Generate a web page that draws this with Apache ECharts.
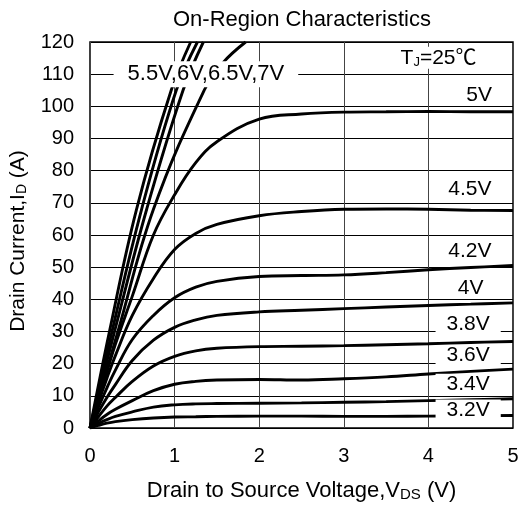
<!DOCTYPE html>
<html>
<head>
<meta charset="utf-8">
<script src="https://cdn.jsdelivr.net/npm/echarts@6/dist/echarts.min.js"></script>
<style>html,body{margin:0;padding:0;background:#fff;}#c{width:522px;height:507px;}</style>
</head>
<body>
<div id="c"></div>
<script>
// ---- data ----
const vds = [0, 0.1, 0.2, 0.3, 0.5, 0.75, 1, 1.25, 1.5, 2, 2.5, 3, 3.5, 4, 4.5, 5];
const id32 = [0, 0.8, 1.5, 2.0, 2.6, 3.1, 3.4, 3.5, 3.6, 3.7, 3.7, 3.6, 3.6, 3.7, 3.8, 3.9];
const id34 = [0, 1.4, 2.6, 3.6, 5.0, 6.5, 7.2, 7.5, 7.6, 7.7, 7.8, 8.0, 8.2, 8.5, 8.8, 9.1];
const id36 = [0, 2.2, 4.2, 5.8, 8.5, 11.6, 13.6, 14.5, 14.9, 15.1, 14.9, 15.3, 15.9, 16.8, 17.6, 18.3];
const id38 = [0, 3.5, 6.8, 9.5, 14.5, 19.3, 22.3, 24, 24.8, 25.3, 25.4, 25.6, 25.9, 26.2, 26.6, 26.9];
const id40 = [0, 5, 9.5, 13.5, 21, 27.3, 31.3, 33.6, 35, 36.1, 36.6, 37.1, 37.6, 38.1, 38.5, 38.9];
const id42 = [0, 6.5, 12.5, 18, 27.5, 35, 40.5, 43.8, 45.6, 47.1, 47.4, 47.6, 48.3, 49.2, 49.9, 50.5];
const id45 = [0, 8, 15.5, 22.5, 35, 46.5, 55.5, 60.5, 63.3, 66, 67.3, 68, 68.1, 68, 67.7, 67.6];
const id50 = [0, 9, 17.5, 26, 41, 60, 72.5, 82.5, 89, 96, 97.6, 98.2, 98.3, 98.4, 98.3, 98.3];

const idSteep = [0, 30, 68, 105, 120];
const vds70 = [0, 0.23, 0.55, 0.96, 1.19];
const vds65 = [0, 0.26, 0.61, 1.02, 1.27];
const vds60 = [0, 0.29, 0.67, 1.10, 1.34];
const vds55 = [0, 0.33, 0.75, 1.35, 1.57, 1.84];
const id55 = [0, 30, 68, 105, 113.5, 120];

const xTicks = [0, 1, 2, 3, 4, 5];
const yTicks = [0, 10, 20, 30, 40, 50, 60, 70, 80, 90, 100, 110, 120];

const labelTexts = ['5.5V,6V,6.5V,7V', '{n|T}{sub|J}{n|=25℃}', '5V', '4.5V', '4.2V', '4V', '3.8V', '3.6V', '3.4V', '3.2V'];
const labelAnchors = [[1.37, 110], [4.12, 115.1], [4.6, 103.5], [4.49, 74.2], [4.49, 54.9], [4.5, 43.5], [4.47, 32.2], [4.47, 22.5], [4.47, 13.6], [4.47, 5.6]];

// ---- chart ----
const FONT = 'Arial, "Liberation Sans", "Noto Sans CJK SC", sans-serif';
const zip = (xs, ys) => xs.map((x, i) => [x, ys[i]]);
const curves = [
  zip(vds, id32), zip(vds, id34), zip(vds, id36), zip(vds, id38),
  zip(vds, id40), zip(vds, id42), zip(vds, id45), zip(vds, id50),
  zip(vds55, id55), zip(vds60, idSteep), zip(vds65, idSteep), zip(vds70, idSteep)
];
const lineSeries = curves.map(d => ({
  type: 'line', data: d, smooth: 0.4, showSymbol: false,
  lineStyle: { color: '#000', width: 2.9 }, clip: true, z: 3, silent: true
}));

const labelSeries = {
  type: 'scatter', symbolSize: 0, z: 10, silent: true,
  itemStyle: { opacity: 1, color: '#fff' },
  data: labelAnchors.map((a, i) => ({
    value: a,
    label: {
      show: true, position: 'inside', formatter: labelTexts[i],
      color: '#000', fontFamily: FONT, fontSize: i === 0 ? 22 : 21,
      textBorderWidth: 0, opacity: 1,
      backgroundColor: '#fff', padding: i === 0 ? [2, 14] : [0, 11],
      rich: {
        n: { fontSize: 21, fontFamily: FONT, color: '#000', textBorderWidth: 0 },
        sub: { fontSize: 13, fontFamily: FONT, color: '#000', textBorderWidth: 0, verticalAlign: 'bottom', padding: [9, 0, 0, 0] }
      }
    }
  }))
};

const chart = echarts.init(document.getElementById('c'), null, { renderer: 'canvas' });
chart.setOption({
  animation: false,
  backgroundColor: '#fff',
  title: {
    text: 'On-Region Characteristics', left: 173, top: 9, padding: 0,
    textStyle: { fontFamily: FONT, fontSize: 22, fontWeight: 'normal', color: '#000' }
  },
  grid: { left: 88, right: 9, top: 42, bottom: 76, show: true, borderColor: '#000', borderWidth: 1.5, backgroundColor: 'transparent' },
  xAxis: {
    type: 'value', min: xTicks[0], max: xTicks[xTicks.length - 1], interval: 1,
    axisLine: { show: false }, axisTick: { show: false },
    splitLine: { show: true, lineStyle: { color: '#444', width: 1 } },
    axisLabel: { color: '#000', fontFamily: FONT, fontSize: 20, margin: 18 },
    name: '{n|Drain to Source Voltage,V}{sub|DS}{n| (V)}', nameLocation: 'middle', nameGap: 52,
    nameTextStyle: {
      rich: {
        n: { fontFamily: FONT, fontSize: 22, color: '#000' },
        sub: { fontFamily: FONT, fontSize: 15, color: '#000', verticalAlign: 'bottom', padding: [7, 0, 0, 0] }
      }
    }
  },
  yAxis: {
    type: 'value', min: yTicks[0], max: yTicks[yTicks.length - 1], interval: 10,
    axisLine: { show: false }, axisTick: { show: false },
    splitLine: { show: true, lineStyle: { color: '#000', width: 1 } },
    axisLabel: { color: '#000', fontFamily: FONT, fontSize: 20, margin: 16 },
    name: '{n|Drain Current,I}{sub|D}{n| (A)}', nameLocation: 'middle', nameGap: 61, nameRotate: 90,
    nameTextStyle: {
      padding: [0, 12, 0, 0],
      rich: {
        n: { fontFamily: FONT, fontSize: 21, color: '#000' },
        sub: { fontFamily: FONT, fontSize: 14, color: '#000', verticalAlign: 'bottom', padding: [7, 0, 0, 0] }
      }
    }
  },
  series: lineSeries.concat([labelSeries])
});
</script>
</body>
</html>
